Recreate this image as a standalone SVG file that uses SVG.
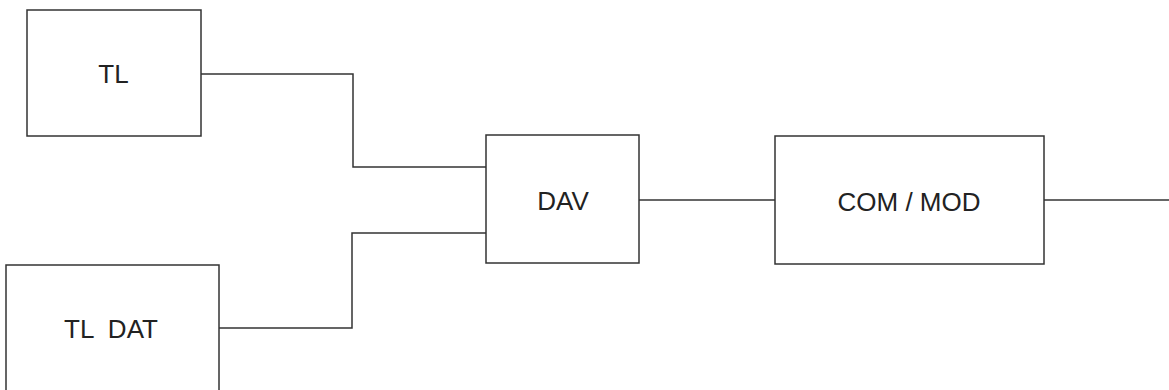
<svg xmlns="http://www.w3.org/2000/svg" width="1169" height="390" viewBox="0 0 1169 390">
<style>
.box{fill:#fff;stroke:#333;stroke-width:1.5}
.wire{fill:none;stroke:#333;stroke-width:1.5}
.lbl{font-family:"Liberation Sans",Arial,sans-serif;font-size:26px;fill:#222;text-anchor:middle;white-space:pre}
</style>
<rect width="1169" height="390" fill="#fff"/>
<g id="connectors">
<polyline class="wire" points="201,74 353,74 353,167 486,167"/>
<polyline class="wire" points="219,328 352,328 352,233 486,233"/>
<line class="wire" x1="639" y1="200" x2="775" y2="200"/>
<line class="wire" x1="1044" y1="200" x2="1169" y2="200"/>
</g>
<g id="tl"><rect class="box" x="27" y="10" width="174" height="126"/><text class="lbl" x="113.5" y="83">TL</text></g>
<g id="tldat"><rect class="box" x="6" y="265" width="213" height="140"/><text class="lbl" x="111" y="338" xml:space="preserve">TL  DAT</text></g>
<g id="dav"><rect class="box" x="486" y="135" width="153" height="128"/><text class="lbl" x="563" y="210">DAV</text></g>
<g id="commod"><rect class="box" x="775" y="136" width="269" height="128"/><text class="lbl" x="909" y="211">COM / MOD</text></g>
</svg>
